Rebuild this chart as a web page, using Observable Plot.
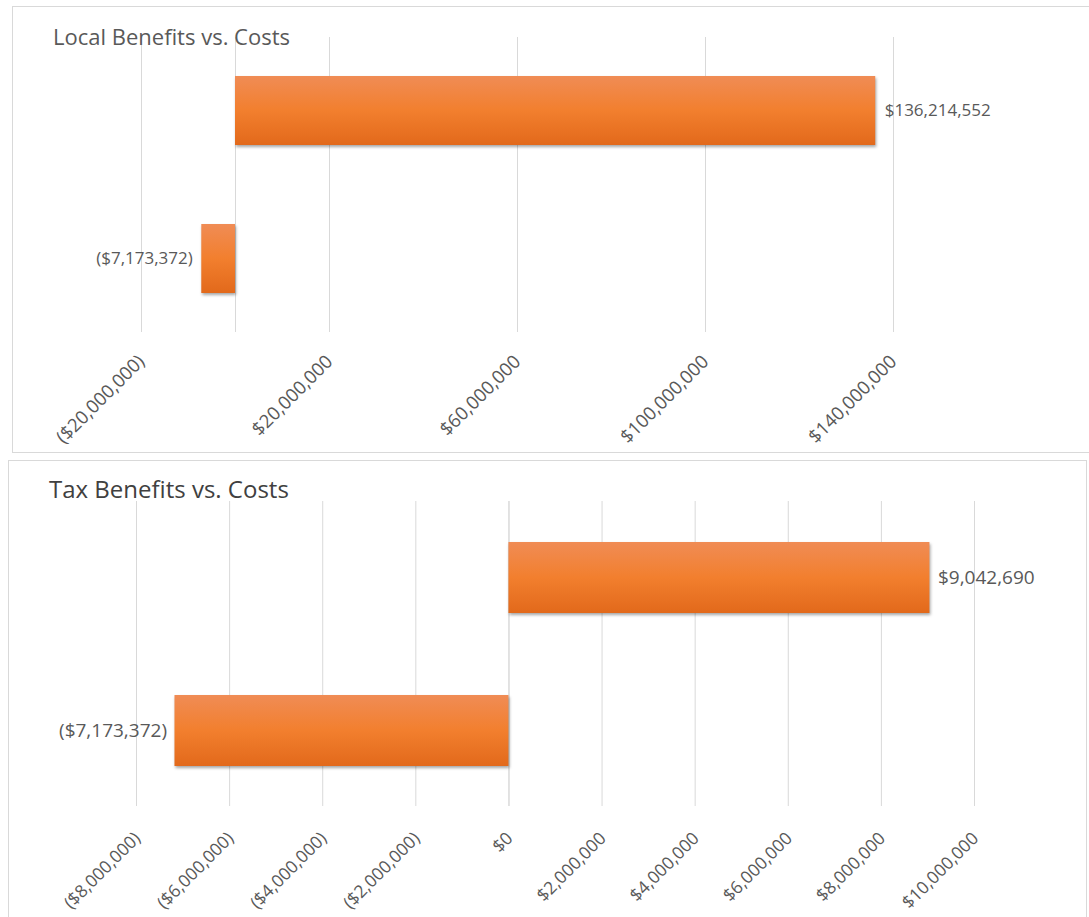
<!DOCTYPE html>
<html>
<head>
<meta charset="utf-8">
<script src="https://cdn.jsdelivr.net/npm/d3@7"></script>
<script src="https://cdn.jsdelivr.net/npm/@observablehq/plot@0.6"></script>
<style>
  html, body { margin: 0; padding: 0; background: #fff; }
  body { width: 1089px; height: 917px; position: relative; overflow: hidden; font-family: "Open Sans", sans-serif; }
  .panel { position: absolute; border: 1px solid #d9d9d9; box-sizing: border-box; }
  .chart { position: absolute; left: 0; }
  .title { position: absolute; white-space: nowrap; font-family: "Open Sans", sans-serif; }
  svg rect.barshape { filter: drop-shadow(1px 2px 1.5px rgba(0,0,0,0.35)); }
</style>
</head>
<body>
<div class="panel" style="left:12px; top:6px; width:1090px; height:447px;"></div>
<div class="panel" style="left:8px; top:460px; width:1079px; height:470px;"></div>
<div id="chart1" class="chart" style="top:0px;"></div>
<div id="chart2" class="chart" style="top:460px;"></div>
<div class="title" style="left:53px; top:21px; font-size:22px; color:#595959;">Local Benefits vs. Costs</div>
<div class="title" style="left:49px; top:472px; font-size:24px; color:#404040;">Tax Benefits vs. Costs</div>
<script>
// ---- Data: Local chart ----
const localCategories = ["Local Benefits", "Local Costs"];
const localValues = [136214552, -7173372];
const localGridTicks = [-20000000, 20000000, 60000000, 100000000, 140000000];
const localTickLabels = [-20000000, 20000000, 60000000, 100000000, 140000000];

// ---- Data: Tax chart ----
const taxCategories = ["Tax Benefits", "Tax Costs"];
const taxValues = [9042690, -7173372];
const taxGridTicks = [-8000000, -6000000, -4000000, -2000000, 0, 2000000, 4000000, 6000000, 8000000, 10000000];
const taxTickLabels = [-8000000, -6000000, -4000000, -2000000, 0, 2000000, 4000000, 6000000, 8000000, 10000000];

const money = v => v < 0 ? "($" + d3.format(",")(-v) + ")" : "$" + d3.format(",")(v);

function addGradient(svg, id) {
  const defs = d3.select(svg).insert("defs", ":first-child");
  const g = defs.append("linearGradient").attr("id", id)
    .attr("x1", 0).attr("y1", 0).attr("x2", 0).attr("y2", 1);
  g.append("stop").attr("offset", "0%").attr("stop-color", "#f08c55");
  g.append("stop").attr("offset", "50%").attr("stop-color", "#f27f2e");
  g.append("stop").attr("offset", "100%").attr("stop-color", "#e2691b");
}

function makeChart(opts) {
  const data = opts.categories.map((c, i) => ({cat: c, value: opts.values[i]}));
  const svg = Plot.plot({
    width: 1089,
    height: opts.height,
    marginLeft: opts.marginLeft,
    marginRight: opts.marginRight,
    marginTop: opts.marginTop,
    marginBottom: opts.marginBottom,
    style: {background: "transparent", fontFamily: "Open Sans, sans-serif", overflow: "visible"},
    x: {domain: opts.domain},
    y: {domain: opts.categories, paddingInner: opts.pi, paddingOuter: opts.po, axis: null},
    marks: [
      Plot.ruleX(opts.grid, {stroke: "#d9d9d9", strokeWidth: 1}),
      Plot.ruleX([0], {stroke: "#d9d9d9", strokeWidth: 1}),
      Plot.barX(data, {x: "value", y: "cat", fill: "url(#" + opts.gid + ")"}),
      Plot.text(data.filter(d => d.value >= 0), {x: "value", y: "cat", text: d => money(d.value),
        textAnchor: "start", dx: opts.labelGap, fontSize: opts.valueFont, fill: "#595959"}),
      Plot.text(data.filter(d => d.value < 0), {x: "value", y: "cat", text: d => money(d.value),
        textAnchor: "end", dx: -opts.labelGap, fontSize: opts.valueFont, fill: "#595959"}),
      Plot.axisX(opts.ticks, {tickRotate: -45, tickSize: 0, tickPadding: 0, tickFormat: money,
        textAnchor: "end", lineAnchor: "middle", dy: opts.tickDy, dx: opts.tickDx,
        fontSize: opts.tickFont, fill: "#595959", label: null})
    ]
  });
  svg.querySelectorAll("g[aria-label='bar'] rect").forEach(r => r.classList.add("barshape"));
  addGradient(svg, opts.gid);
  return svg;
}

document.getElementById("chart1").appendChild(makeChart({
  categories: localCategories, values: localValues, grid: localGridTicks, ticks: localTickLabels,
  domain: [-20000000, 140000000], height: 455,
  marginLeft: 141, marginRight: 196, marginTop: 37, marginBottom: 123,
  pi: 0.534, po: 0.263, gid: "grad1", labelGap: 9, valueFont: 17, tickFont: 18.5, tickDy: 26, tickDx: 0
}));

document.getElementById("chart2").appendChild(makeChart({
  categories: taxCategories, values: taxValues, grid: taxGridTicks, ticks: taxTickLabels,
  domain: [-8000000, 10000000], height: 457,
  marginLeft: 136, marginRight: 115, marginTop: 41, marginBottom: 111,
  pi: 0.536, po: 0.264, gid: "grad2", labelGap: 8, valueFont: 19, tickFont: 17.5, tickDy: 29, tickDx: 1
}));
</script>
</body>
</html>
